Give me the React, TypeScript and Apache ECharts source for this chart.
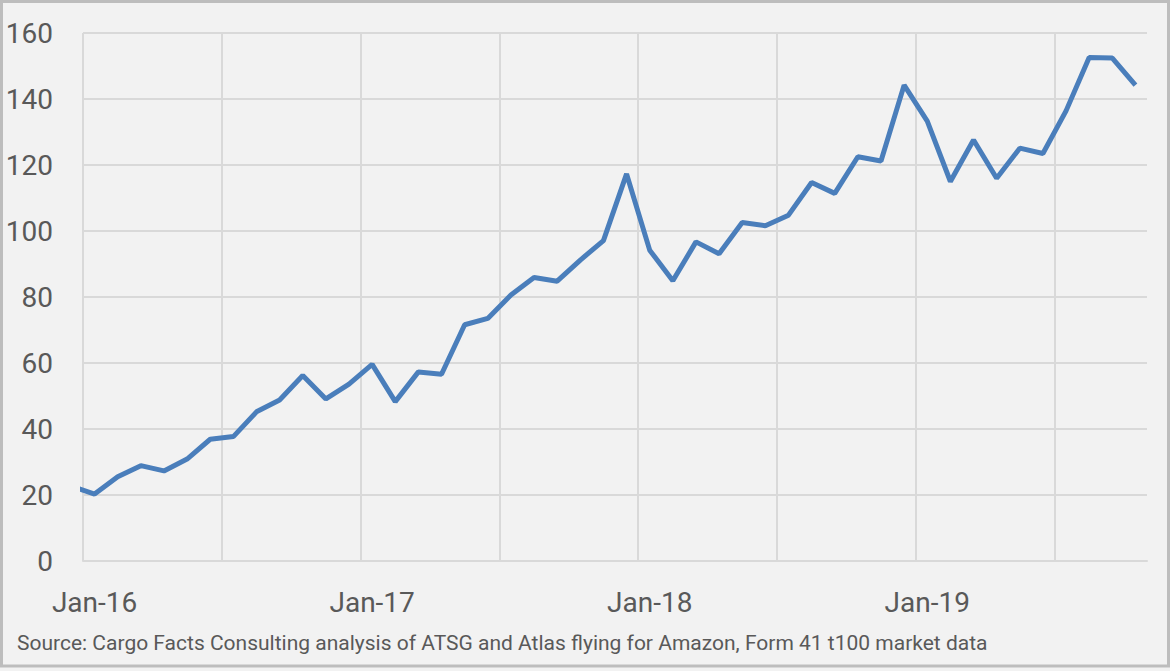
import React, { useEffect, useRef } from "react";
import * as echarts from "echarts";

// Month labels: Dec-15 is just before the axis start (clipped at the left edge)
const months: string[] = [
  "Dec-15",
  "Jan-16", "Feb-16", "Mar-16", "Apr-16", "May-16", "Jun-16", "Jul-16", "Aug-16", "Sep-16", "Oct-16", "Nov-16", "Dec-16",
  "Jan-17", "Feb-17", "Mar-17", "Apr-17", "May-17", "Jun-17", "Jul-17", "Aug-17", "Sep-17", "Oct-17", "Nov-17", "Dec-17",
  "Jan-18", "Feb-18", "Mar-18", "Apr-18", "May-18", "Jun-18", "Jul-18", "Aug-18", "Sep-18", "Oct-18", "Nov-18", "Dec-18",
  "Jan-19", "Feb-19", "Mar-19", "Apr-19", "May-19", "Jun-19", "Jul-19", "Aug-19", "Sep-19", "Oct-19",
];

const values: number[] = [
  22.7,
  20.3, 25.5, 28.9, 27.3, 30.9, 36.9, 37.7, 45.2, 48.8, 56.2, 49.1, 53.6,
  59.6, 48.3, 57.3, 56.6, 71.6, 73.5, 80.6, 85.9, 84.8, 91.2, 97.1, 117.3,
  94.2, 84.9, 96.7, 93.1, 102.6, 101.6, 104.8, 114.7, 111.4, 122.5, 121.2, 144.2,
  133.3, 115.0, 127.6, 116.0, 125.1, 123.5, 136.4, 152.6, 152.4, 144.2,
];

const yTicks = { min: 0, max: 160, interval: 20 };
const sourceText =
  "Source: Cargo Facts Consulting analysis of ATSG and Atlas flying for Amazon, Form 41 t100 market data";

export default function App() {
  const ref = useRef<HTMLDivElement>(null);

  useEffect(() => {
    document.body.style.margin = "0";
    if (!ref.current) return;
    const chart = echarts.init(ref.current, undefined, { renderer: "svg" });

    const seriesData = values.map((v, i) => [i - 0.5, v]);
    const axisMonths = months.slice(1); // months shown on the axis
    const nMonths = axisMonths.length;

    chart.setOption({
      animation: false,
      backgroundColor: "#f2f2f2",
      textStyle: { fontFamily: "Roboto" },
      grid: { left: 83, right: 23, top: 33, bottom: 110, containLabel: false },
      xAxis: [
        {
          type: "value",
          min: 0,
          max: nMonths,
          interval: 6,
          axisLine: { show: true, lineStyle: { color: "#d9d9d9", width: 2 } },
          axisTick: { show: false },
          splitLine: { show: true, showMaxLine: false, lineStyle: { color: "#d9d9d9", width: 2 } },
          axisLabel: { show: false },
        },
        {
          type: "category",
          position: "bottom",
          data: axisMonths,
          boundaryGap: true,
          axisLine: { show: false },
          axisTick: { show: false },
          splitLine: { show: false },
          axisLabel: {
            show: true,
            interval: 11,
            margin: 27,
            fontSize: 28,
            color: "#595959",
            fontFamily: "Roboto",
          },
        },
      ],
      yAxis: {
        type: "value",
        min: yTicks.min,
        max: yTicks.max,
        interval: yTicks.interval,
        axisLine: { show: false },
        axisTick: { show: false },
        splitLine: { show: true, lineStyle: { color: "#d9d9d9", width: 2 } },
        axisLabel: {
          margin: 30,
          fontSize: 28,
          color: "#595959",
          fontFamily: "Roboto",
        },
      },
      series: [
        {
          type: "line",
          xAxisIndex: 0,
          data: seriesData,
          symbol: "none",
          clip: true,
          lineStyle: { color: "#4a7ebb", width: 5 },
          z: 3,
        },
      ],
      graphic: [
        {
          type: "text",
          left: 17,
          top: 632,
          style: {
            text: sourceText,
            fontSize: 21,
            fontFamily: "Roboto",
            fill: "#595959",
          },
        },
        {
          type: "rect",
          shape: { x: 1.5, y: 1.5, width: 1167, height: 664.5 },
          style: { fill: "none", stroke: "#bdbdbd", lineWidth: 3 },
          z: 100,
        },
      ],
    });

    return () => chart.dispose();
  }, []);

  return <div ref={ref} style={{ width: 1170, height: 671 }} />;
}
